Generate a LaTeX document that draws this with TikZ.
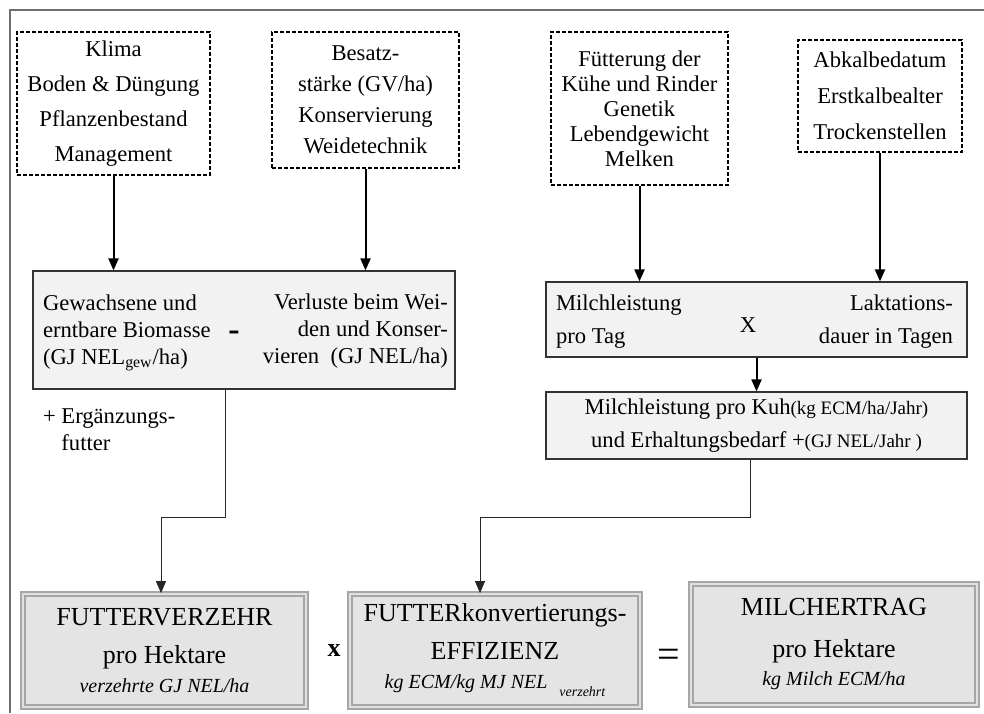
\documentclass[tikz,border=0pt]{standalone}
\usepackage{fontspec}
\setmainfont{Liberation Serif}
\usetikzlibrary{arrows.meta}
\definecolor{boxgray}{HTML}{F2F2F2}
\definecolor{resgray}{HTML}{E4E4E5}
\definecolor{framegray}{HTML}{6E6E6E}
\tikzset{
  factor/.style={draw, dash pattern=on 1.8pt off 1.2pt, line width=0.6pt, align=center, inner sep=0pt},
  calcbox/.style={draw=black!80, fill=boxgray, line width=0.6pt, inner sep=0pt},
  resultbox/.style={draw=black!35, line width=0.9pt, double=black!12, double distance=1.2pt,
    fill=resgray, align=center, inner sep=0pt, font=\fontsize{13}{19}\selectfont},
  link/.style={draw=black!85, line width=0.5pt, ->}
}
\begin{document}
\begin{tikzpicture}[x=0.5pt,y=-0.5pt,>={Triangle[length=6pt,width=5pt]},
  font=\fontsize{11.3}{13.5}\selectfont]
\useasboundingbox (0,0) rectangle (984,713);
\draw[framegray, line width=0.8pt] (10,713) -- (10,10) -- (984,10);

% factors
\node[factor, minimum width=96.5pt, minimum height=71.5pt, font=\fontsize{11.3}{17.5}\selectfont]
  (klima) at (113.5,103.5) {Klima\\Boden \& Düngung\\Pflanzenbestand\\Management};
\node[factor, minimum width=93.5pt, minimum height=68pt, font=\fontsize{11.3}{15.5}\selectfont]
  (besatz) at (365.5,100) {Besatz-\\stärke (GV/ha)\\Konservierung\\Weidetechnik};
\node[factor, minimum width=88.5pt, minimum height=76.5pt, font=\fontsize{11.3}{12.5}\selectfont]
  (fuetterung) at (639.5,108.5) {Fütterung der\\Kühe und Rinder\\Genetik\\Lebendgewicht\\Melken};
\node[factor, minimum width=82pt, minimum height=56pt, font=\fontsize{11.3}{18}\selectfont]
  (abkalbung) at (880,96) {Abkalbedatum\\Erstkalbealter\\Trockenstellen};

% biomass
\node[calcbox, minimum width=211pt, minimum height=59pt] (biomasse) at (244,330) {};
\node[anchor=west, align=left] (gewachsen) at (36,333)
  {Gewachsene und\\erntbare Biomasse\\(GJ NEL\textsubscript{gew}/ha)};
\node[anchor=east, align=right] (verluste) at (455,331)
  {Verluste beim Wei-\\den und Konser-\\vieren\ \ (GJ NEL/ha)};
\node[font=\fontsize{17}{17}\selectfont\bfseries] (minus) at (234,336) {-};
\node[anchor=west, align=left] (ergaenzung) at (36,430) {+ Ergänzungs-\\\hphantom{+ }futter};

% milk per cow
\node[calcbox, minimum width=210.5pt, minimum height=37.5pt] (tagesleistung) at (756.5,319.5) {};
\node[anchor=west, align=left, font=\fontsize{11.3}{16.5}\selectfont] (milchtag) at (549,322)
  {Milchleistung\\pro Tag};
\node[anchor=east, align=right, font=\fontsize{11.3}{16.5}\selectfont] (laktation) at (960,322)
  {Laktations-\\dauer in Tagen};
\node (mal) at (748,325) {X};
\node[calcbox, minimum width=210.5pt, minimum height=33.5pt, align=center,
  font=\fontsize{11.3}{16.5}\selectfont] (kuhleistung) at (756.5,425.5)
  {Milchleistung pro Kuh{\fontsize{9.5}{11}\selectfont(kg ECM/ha/Jahr)}\\
   und Erhaltungsbedarf +{\fontsize{9.5}{11}\selectfont(GJ NEL/Jahr )}};

% results
\node[resultbox, minimum width=141.5pt, minimum height=56.5pt] (verzehr) at (164.5,650.5)
  {FUTTERVERZEHR\\pro Hektare\\[-4.5pt]{\fontsize{10}{12}\selectfont\itshape verzehrte GJ NEL/ha}};
\node[resultbox, minimum width=145pt, minimum height=56.5pt] (effizienz) at (495,650.5)
  {FUTTERkonvertierungs-\\EFFIZIENZ\\[-4.5pt]{\fontsize{10}{12}\selectfont\itshape
   kg ECM/kg MJ NEL\hspace{6pt}\raisebox{-4pt}{\fontsize{7}{8}\selectfont verzehrt}}};
\node[resultbox, minimum width=143pt, minimum height=60.5pt] (ertrag) at (834,644.5)
  {MILCHERTRAG\\[2pt]pro Hektare\\[-5pt]{\fontsize{10}{12}\selectfont\itshape kg Milch ECM/ha}};
\node[font=\fontsize{13}{15}\selectfont\bfseries] (malzwei) at (334,651) {x};
\node[font=\fontsize{20}{20}\selectfont] (gleich) at (669,658) {=};

% arrows
\draw[->, line width=1pt] (klima.south) -- (klima.south |- biomasse.north);
\draw[->, line width=1pt] (besatz.south) -- (besatz.south |- biomasse.north);
\draw[->, line width=1pt] (fuetterung.south) -- (fuetterung.south |- tagesleistung.north);
\draw[->, line width=1pt] (abkalbung.south) -- (abkalbung.south |- tagesleistung.north);
\draw[->, line width=1pt] (tagesleistung.south) -- (kuhleistung.north);
\draw[link] ([xshift=-9.5pt]biomasse.south) -- ++(0,128) -| ([xshift=-1.75pt]verzehr.north);
\draw[link] ([xshift=-3pt]kuhleistung.south) -- ++(0,58) -| ([xshift=-7.5pt]effizienz.north);
\end{tikzpicture}
\end{document}
